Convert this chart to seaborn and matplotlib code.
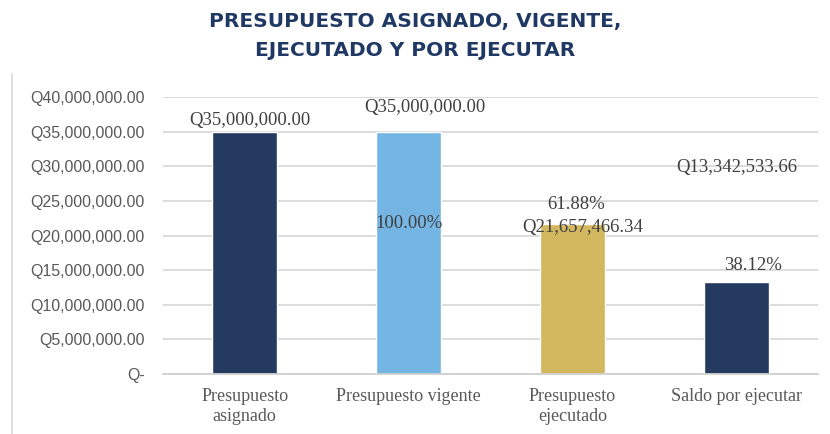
#Importing libraries
import pandas as pd
import matplotlib.pyplot as plt
import seaborn as sns
from matplotlib.ticker import FuncFormatter, MultipleLocator
from matplotlib.lines import Line2D

#Chart data
Categories = ["Presupuesto\nasignado", "Presupuesto vigente", "Presupuesto\nejecutado", "Saldo por ejecutar"]
Amounts = [35000000.00, 35000000.00, 21657466.34, 13342533.66]
AmountLabels = ["Q35,000,000.00", "Q35,000,000.00", "Q21,657,466.34", "Q13,342,533.66"]
PercentLabels = ["", "100.00%", "61.88%", "38.12%"]
BarColours = ["#243a5e", "#74b5e3", "#d3b85f", "#243a5e"]
TitleLines = ["PRESUPUESTO ASIGNADO, VIGENTE,", "EJECUTADO Y POR EJECUTAR"]

DataFrame = pd.DataFrame({"Categoria": Categories, "Monto": Amounts})

sns.set_style("white")
plt.rcParams["font.family"] = ["Liberation Sans", "DejaVu Sans"]

fig = plt.figure(figsize=(8.3, 4.34), dpi=100)
ax = fig.add_axes([0.196, 0.138, 0.79, 0.638])

sns.barplot(data=DataFrame, x="Categoria", y="Monto", hue="Categoria",
            palette=BarColours, width=0.4, legend=False, saturation=1, ax=ax)

#Axis formatting
ax.set_xlim(-0.5, 3.5)
ax.set_ylim(0, 40000000)
ax.yaxis.set_major_locator(MultipleLocator(5000000))
ax.yaxis.set_major_formatter(FuncFormatter(lambda v, p: "Q-" if v == 0 else "Q{:,.2f}".format(v)))
ax.grid(axis="y", color="#d9d9d9", linewidth=1.3)
ax.set_axisbelow(True)
for side in ["top", "right", "left"]:
    ax.spines[side].set_visible(False)
ax.spines["bottom"].set_color("#d0d0d0")
ax.spines["bottom"].set_linewidth(1.3)
ax.set_xlabel("")
ax.set_ylabel("")
ax.tick_params(axis="y", length=0, pad=13, labelsize=11.5, labelcolor="#595959")
ax.tick_params(axis="x", length=0, pad=10)
for lab in ax.get_xticklabels():
    lab.set_fontfamily("Liberation Serif")
    lab.set_fontsize(13)
    lab.set_color("#595959")
    lab.set_verticalalignment("top")

#Data labels (amounts and percentages)
LabelFont = dict(family="Liberation Serif", fontsize=13.5, color="#404040", ha="center", va="center")
ax.text(0.03, Amounts[0] + 1700000, AmountLabels[0], **LabelFont)
ax.text(1.1, Amounts[1] + 3500000, AmountLabels[1], **LabelFont)
ax.text(1.0, Amounts[1] - 13200000, PercentLabels[1], **LabelFont)
ax.text(2.06, Amounts[2] - 550000, AmountLabels[2], **LabelFont)
ax.text(2.02, Amounts[2] + 2850000, PercentLabels[2], **LabelFont)
ax.text(3.0, Amounts[3] + 16550000, AmountLabels[3], **LabelFont)
ax.text(3.1, Amounts[3] + 2350000, PercentLabels[3], **LabelFont)

#Title
TitleFont = dict(ha="center", va="center", fontsize=14.5, fontweight="bold",
                 family=["DejaVu Sans"], color="#1f3864")
fig.text(0.5, 1 - 22 / 434, TitleLines[0], **TitleFont)
fig.text(0.5, 1 - 50 / 434, TitleLines[1], **TitleFont)

#Left border line of chart area
fig.add_artist(Line2D([0.0145, 0.0145], [0.0, 0.83], color="#d9d9d9", linewidth=1.2, transform=fig.transFigure))

plt.savefig("out.png", dpi=100)
